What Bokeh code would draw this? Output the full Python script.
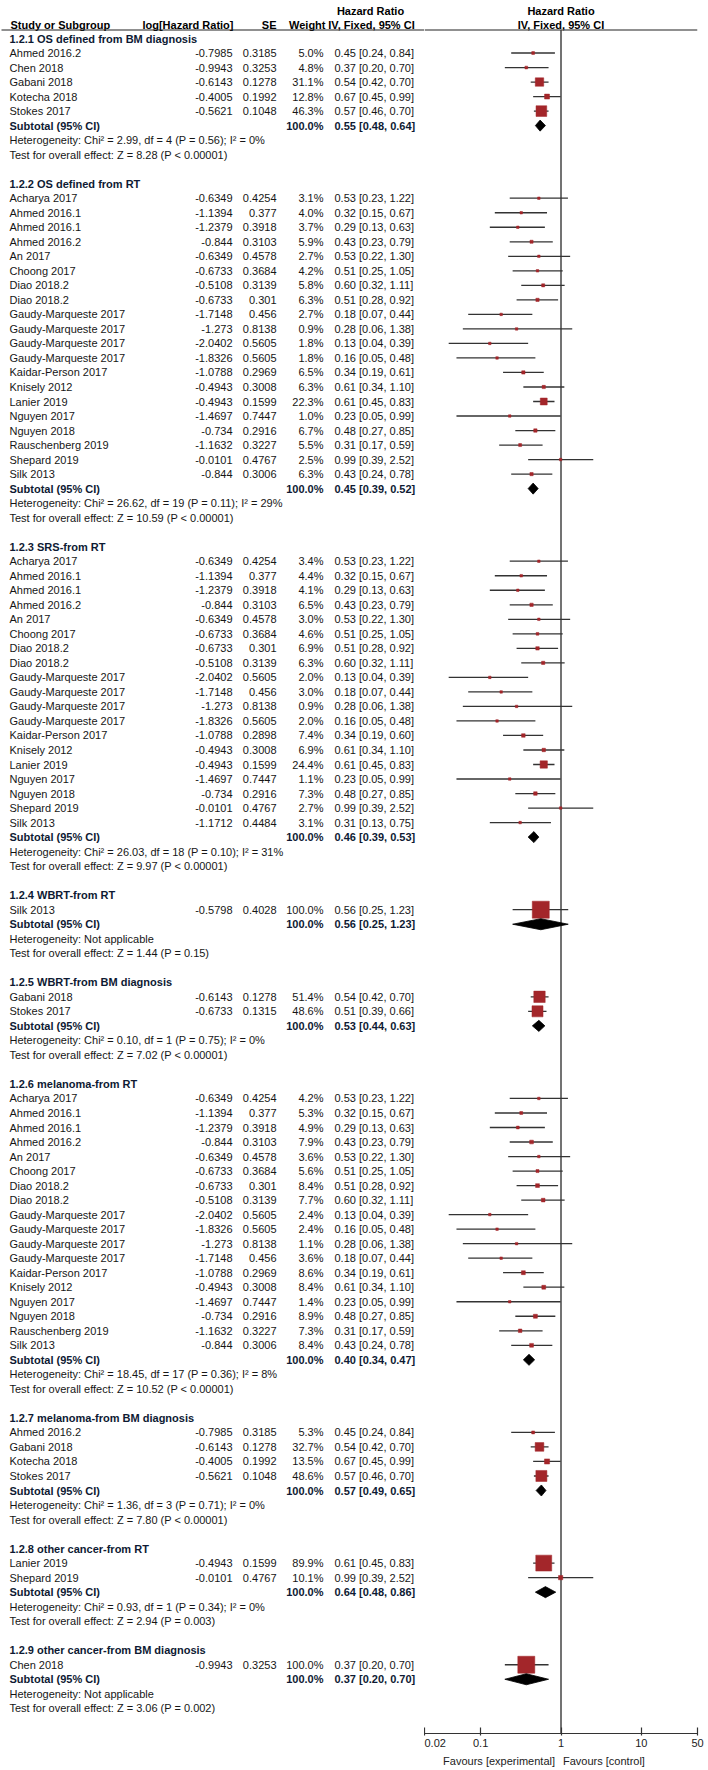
import math
from bokeh.plotting import figure
from bokeh.layouts import row, column
from bokeh.models import Range1d, FixedTicker, NumeralTickFormatter, ColumnDataSource, LogScale
from bokeh.embed import file_html
from bokeh.resources import INLINE
from bokeh.core.properties import value

# ---------------- data ----------------
group_titles = [
    "1.2.1 OS defined from BM diagnosis",
    "1.2.2 OS defined from RT",
    "1.2.3 SRS-from RT",
    "1.2.4 WBRT-from RT",
    "1.2.5 WBRT-from BM diagnosis",
    "1.2.6 melanoma-from RT",
    "1.2.7 melanoma-from BM diagnosis",
    "1.2.8 other cancer-from RT",
    "1.2.9 other cancer-from BM diagnosis",
]
group_n = [5, 20, 19, 1, 2, 18, 4, 2, 1]

study = [
    # 1.2.1
    "Ahmed 2016.2", "Chen 2018", "Gabani 2018", "Kotecha 2018", "Stokes 2017",
    # 1.2.2
    "Acharya 2017", "Ahmed 2016.1", "Ahmed 2016.1", "Ahmed 2016.2", "An 2017", "Choong 2017",
    "Diao 2018.2", "Diao 2018.2", "Gaudy-Marqueste 2017", "Gaudy-Marqueste 2017",
    "Gaudy-Marqueste 2017", "Gaudy-Marqueste 2017", "Kaidar-Person 2017", "Knisely 2012",
    "Lanier 2019", "Nguyen 2017", "Nguyen 2018", "Rauschenberg 2019", "Shepard 2019", "Silk 2013",
    # 1.2.3
    "Acharya 2017", "Ahmed 2016.1", "Ahmed 2016.1", "Ahmed 2016.2", "An 2017", "Choong 2017",
    "Diao 2018.2", "Diao 2018.2", "Gaudy-Marqueste 2017", "Gaudy-Marqueste 2017",
    "Gaudy-Marqueste 2017", "Gaudy-Marqueste 2017", "Kaidar-Person 2017", "Knisely 2012",
    "Lanier 2019", "Nguyen 2017", "Nguyen 2018", "Shepard 2019", "Silk 2013",
    # 1.2.4
    "Silk 2013",
    # 1.2.5
    "Gabani 2018", "Stokes 2017",
    # 1.2.6
    "Acharya 2017", "Ahmed 2016.1", "Ahmed 2016.1", "Ahmed 2016.2", "An 2017", "Choong 2017",
    "Diao 2018.2", "Diao 2018.2", "Gaudy-Marqueste 2017", "Gaudy-Marqueste 2017",
    "Gaudy-Marqueste 2017", "Gaudy-Marqueste 2017", "Kaidar-Person 2017", "Knisely 2012",
    "Nguyen 2017", "Nguyen 2018", "Rauschenberg 2019", "Silk 2013",
    # 1.2.7
    "Ahmed 2016.2", "Gabani 2018", "Kotecha 2018", "Stokes 2017",
    # 1.2.8
    "Lanier 2019", "Shepard 2019",
    # 1.2.9
    "Chen 2018",
]

log_hr = [
    -0.7985, -0.9943, -0.6143, -0.4005, -0.5621,
    -0.6349, -1.1394, -1.2379, -0.844, -0.6349, -0.6733, -0.5108, -0.6733, -1.7148, -1.273,
    -2.0402, -1.8326, -1.0788, -0.4943, -0.4943, -1.4697, -0.734, -1.1632, -0.0101, -0.844,
    -0.6349, -1.1394, -1.2379, -0.844, -0.6349, -0.6733, -0.6733, -0.5108, -2.0402, -1.7148,
    -1.273, -1.8326, -1.0788, -0.4943, -0.4943, -1.4697, -0.734, -0.0101, -1.1712,
    -0.5798,
    -0.6143, -0.6733,
    -0.6349, -1.1394, -1.2379, -0.844, -0.6349, -0.6733, -0.6733, -0.5108, -2.0402, -1.8326,
    -1.273, -1.7148, -1.0788, -0.4943, -1.4697, -0.734, -1.1632, -0.844,
    -0.7985, -0.6143, -0.4005, -0.5621,
    -0.4943, -0.0101,
    -0.9943,
]

se = [
    0.3185, 0.3253, 0.1278, 0.1992, 0.1048,
    0.4254, 0.377, 0.3918, 0.3103, 0.4578, 0.3684, 0.3139, 0.301, 0.456, 0.8138,
    0.5605, 0.5605, 0.2969, 0.3008, 0.1599, 0.7447, 0.2916, 0.3227, 0.4767, 0.3006,
    0.4254, 0.377, 0.3918, 0.3103, 0.4578, 0.3684, 0.301, 0.3139, 0.5605, 0.456,
    0.8138, 0.5605, 0.2898, 0.3008, 0.1599, 0.7447, 0.2916, 0.4767, 0.4484,
    0.4028,
    0.1278, 0.1315,
    0.4254, 0.377, 0.3918, 0.3103, 0.4578, 0.3684, 0.301, 0.3139, 0.5605, 0.5605,
    0.8138, 0.456, 0.2969, 0.3008, 0.7447, 0.2916, 0.3227, 0.3006,
    0.3185, 0.1278, 0.1992, 0.1048,
    0.1599, 0.4767,
    0.3253,
]

weight = [
    5.0, 4.8, 31.1, 12.8, 46.3,
    3.1, 4.0, 3.7, 5.9, 2.7, 4.2, 5.8, 6.3, 2.7, 0.9,
    1.8, 1.8, 6.5, 6.3, 22.3, 1.0, 6.7, 5.5, 2.5, 6.3,
    3.4, 4.4, 4.1, 6.5, 3.0, 4.6, 6.9, 6.3, 2.0, 3.0,
    0.9, 2.0, 7.4, 6.9, 24.4, 1.1, 7.3, 2.7, 3.1,
    100.0,
    51.4, 48.6,
    4.2, 5.3, 4.9, 7.9, 3.6, 5.6, 8.4, 7.7, 2.4, 2.4,
    1.1, 3.6, 8.6, 8.4, 1.4, 8.9, 7.3, 8.4,
    5.3, 32.7, 13.5, 48.6,
    89.9, 10.1,
    100.0,
]

hr = [
    0.45, 0.37, 0.54, 0.67, 0.57,
    0.53, 0.32, 0.29, 0.43, 0.53, 0.51, 0.60, 0.51, 0.18, 0.28,
    0.13, 0.16, 0.34, 0.61, 0.61, 0.23, 0.48, 0.31, 0.99, 0.43,
    0.53, 0.32, 0.29, 0.43, 0.53, 0.51, 0.51, 0.60, 0.13, 0.18,
    0.28, 0.16, 0.34, 0.61, 0.61, 0.23, 0.48, 0.99, 0.31,
    0.56,
    0.54, 0.51,
    0.53, 0.32, 0.29, 0.43, 0.53, 0.51, 0.51, 0.60, 0.13, 0.16,
    0.28, 0.18, 0.34, 0.61, 0.23, 0.48, 0.31, 0.43,
    0.45, 0.54, 0.67, 0.57,
    0.61, 0.99,
    0.37,
]

ci_lo = [
    0.24, 0.20, 0.42, 0.45, 0.46,
    0.23, 0.15, 0.13, 0.23, 0.22, 0.25, 0.32, 0.28, 0.07, 0.06,
    0.04, 0.05, 0.19, 0.34, 0.45, 0.05, 0.27, 0.17, 0.39, 0.24,
    0.23, 0.15, 0.13, 0.23, 0.22, 0.25, 0.28, 0.32, 0.04, 0.07,
    0.06, 0.05, 0.19, 0.34, 0.45, 0.05, 0.27, 0.39, 0.13,
    0.25,
    0.42, 0.39,
    0.23, 0.15, 0.13, 0.23, 0.22, 0.25, 0.28, 0.32, 0.04, 0.05,
    0.06, 0.07, 0.19, 0.34, 0.05, 0.27, 0.17, 0.24,
    0.24, 0.42, 0.45, 0.46,
    0.45, 0.39,
    0.20,
]

ci_hi = [
    0.84, 0.70, 0.70, 0.99, 0.70,
    1.22, 0.67, 0.63, 0.79, 1.30, 1.05, 1.11, 0.92, 0.44, 1.38,
    0.39, 0.48, 0.61, 1.10, 0.83, 0.99, 0.85, 0.59, 2.52, 0.78,
    1.22, 0.67, 0.63, 0.79, 1.30, 1.05, 0.92, 1.11, 0.39, 0.44,
    1.38, 0.48, 0.60, 1.10, 0.83, 0.99, 0.85, 2.52, 0.75,
    1.23,
    0.70, 0.66,
    1.22, 0.67, 0.63, 0.79, 1.30, 1.05, 0.92, 1.11, 0.39, 0.48,
    1.38, 0.44, 0.61, 1.10, 0.99, 0.85, 0.59, 0.78,
    0.84, 0.70, 0.99, 0.70,
    0.83, 2.52,
    0.70,
]

sub_hr = [0.55, 0.45, 0.46, 0.56, 0.53, 0.40, 0.57, 0.64, 0.37]
sub_lo = [0.48, 0.39, 0.39, 0.25, 0.44, 0.34, 0.49, 0.48, 0.20]
sub_hi = [0.64, 0.52, 0.53, 1.23, 0.63, 0.47, 0.65, 0.86, 0.70]

heterogeneity = [
    "Heterogeneity: Chi² = 2.99, df = 4 (P = 0.56); I² = 0%",
    "Heterogeneity: Chi² = 26.62, df = 19 (P = 0.11); I² = 29%",
    "Heterogeneity: Chi² = 26.03, df = 18 (P = 0.10); I² = 31%",
    "Heterogeneity: Not applicable",
    "Heterogeneity: Chi² = 0.10, df = 1 (P = 0.75); I² = 0%",
    "Heterogeneity: Chi² = 18.45, df = 17 (P = 0.36); I² = 8%",
    "Heterogeneity: Chi² = 1.36, df = 3 (P = 0.71); I² = 0%",
    "Heterogeneity: Chi² = 0.93, df = 1 (P = 0.34); I² = 0%",
    "Heterogeneity: Not applicable",
]
overall_effect = [
    "Test for overall effect: Z = 8.28 (P < 0.00001)",
    "Test for overall effect: Z = 10.59 (P < 0.00001)",
    "Test for overall effect: Z = 9.97 (P < 0.00001)",
    "Test for overall effect: Z = 1.44 (P = 0.15)",
    "Test for overall effect: Z = 7.02 (P < 0.00001)",
    "Test for overall effect: Z = 10.52 (P < 0.00001)",
    "Test for overall effect: Z = 7.80 (P < 0.00001)",
    "Test for overall effect: Z = 2.94 (P = 0.003)",
    "Test for overall effect: Z = 3.06 (P = 0.002)",
]

x_ticks = [0.02, 0.1, 1, 10, 50]
favours_left = "Favours [experimental]"
favours_right = "Favours [control]"

# ---------------- layout constants (page pixels) ----------------
FONT = value("Liberation Sans")
FS = value("11px")
TXT = "#161616"
BOLD_C = "#0e1a33"
SQ_C = "#a3262a"
LINE_C = "#333333"

ROW0 = 38.0          # page y of first group header
STEP = 14.52         # row pitch
AXIS_Y = 1733        # page y of the x axis line
MAIN_H = 1752        # height of table + forest figures
FOOT_H = 17          # height of the "Favours" strip
LEFT_W = 424
RIGHT_W = 708 - LEFT_W
RIGHT_PAD = 11


def to_row(page_y):
    return (page_y - ROW0) / STEP


r_top = to_row(0)
r_axis = to_row(AXIS_Y)
r_h1 = to_row(10)
r_h2 = to_row(24)
r_rule = to_row(29.5)

# ---------------- row bookkeeping ----------------
rows_header, rows_study, rows_sub, rows_het, rows_test = [], [], [], [], []
r = 0
for n in group_n:
    rows_header.append(r)
    r += 1
    for _ in range(n):
        rows_study.append(r)
        r += 1
    rows_sub.append(r)
    rows_het.append(r + 1)
    rows_test.append(r + 2)
    r += 4


def txt(fig, xs, ys, texts, align="left", bold=False, color=TXT, x_offset=0):
    fig.text(x=xs, y=ys, text=texts, text_align=align, text_baseline="middle",
             text_font=FONT, text_font_size=FS, x_offset=x_offset,
             text_font_style="bold" if bold else "normal", text_color=color)


# ---------------- left (table) figure ----------------
left = figure(width=LEFT_W, height=MAIN_H, x_range=Range1d(0, LEFT_W),
              y_range=Range1d(r_axis, r_top), x_axis_type=None, y_axis_type=None,
              output_backend="svg", toolbar_location=None,
              min_border_left=0, min_border_right=0, min_border_top=0,
              min_border_bottom=MAIN_H - AXIS_Y,
              outline_line_color=None, background_fill_color="white")

# column headers
txt(left, [370], [r_h1], ["Hazard Ratio"], align="center", bold=True, color="#000")
txt(left, [10], [r_h2], ["Study or Subgroup"], bold=True, color="#000")
txt(left, [233], [r_h2], ["log[Hazard Ratio]"], align="right", bold=True, color="#000")
txt(left, [276], [r_h2], ["SE"], align="right", bold=True, color="#000")
txt(left, [325], [r_h2], ["Weight"], align="right", bold=True, color="#000")
txt(left, [371], [r_h2], ["IV, Fixed, 95% CI"], align="center", bold=True, color="#000")
left.segment(x0=[1], y0=[r_rule], x1=[LEFT_W], y1=[r_rule], line_color="#222", line_width=1.2)

# group headers
txt(left, [9] * len(rows_header), rows_header, group_titles, bold=True, color=BOLD_C)

# study rows
txt(left, [9] * len(study), rows_study, study)
txt(left, [232] * len(study), rows_study, [str(v) for v in log_hr], align="right")
txt(left, [276] * len(study), rows_study, [str(v) for v in se], align="right")
txt(left, [323] * len(study), rows_study, [f"{w:.1f}%" for w in weight], align="right")
txt(left, [334] * len(study), rows_study,
    [f"{h:.2f} [{a:.2f}, {b:.2f}]" for h, a, b in zip(hr, ci_lo, ci_hi)])

# subtotal rows
ng = len(group_titles)
txt(left, [9] * ng, rows_sub, ["Subtotal (95% CI)"] * ng, bold=True, color=BOLD_C)
txt(left, [323] * ng, rows_sub, ["100.0%"] * ng, align="right", bold=True, color=BOLD_C)
txt(left, [334] * ng, rows_sub,
    [f"{h:.2f} [{a:.2f}, {b:.2f}]" for h, a, b in zip(sub_hr, sub_lo, sub_hi)],
    bold=True, color=BOLD_C)
txt(left, [9] * ng, rows_het, heterogeneity)
txt(left, [9] * ng, rows_test, overall_effect)

# ---------------- right (forest) figure ----------------
fp = figure(width=RIGHT_W, height=MAIN_H, x_axis_type="log", y_axis_type=None,
            x_range=Range1d(x_ticks[0], x_ticks[-1]), y_range=Range1d(r_axis, r_top),
            output_backend="svg", toolbar_location=None,
            min_border_left=0, min_border_right=RIGHT_PAD, min_border_top=0,
            min_border_bottom=MAIN_H - AXIS_Y,
            outline_line_color=None, background_fill_color="white")
fp.xgrid.grid_line_color = None
ax = fp.xaxis[0]
ax.ticker = FixedTicker(ticks=x_ticks)
ax.formatter = NumeralTickFormatter(format="0.[00]")
ax.axis_line_color = LINE_C
ax.axis_line_width = 1.2
ax.major_tick_line_color = LINE_C
ax.major_tick_line_width = 1.2
ax.major_tick_in = 6
ax.major_tick_out = 2
ax.minor_tick_line_color = None
ax.major_label_standoff = 3
ax.major_label_text_font = "Liberation Sans"
ax.major_label_text_font_size = "11px"
ax.major_label_text_color = "#222"

# header texts + rule
txt(fp, [1], [r_h1], ["Hazard Ratio"], align="center", bold=True, color="#000")
txt(fp, [1], [r_h2], ["IV, Fixed, 95% CI"], align="center", bold=True, color="#000")
fp.segment(x0=[x_ticks[0]], y0=[r_rule], x1=[x_ticks[-1]], y1=[r_rule], line_color="#222", line_width=1.2)

# line of no effect
fp.segment(x0=[1], y0=[r_rule], x1=[1], y1=[r_axis], line_color="#444", line_width=1.5)

# study CIs and squares (square side grows with weight)
src = ColumnDataSource(dict(
    hr=hr, lo=ci_lo, hi=ci_hi, y=rows_study,
    size=[max(2.5, 17.0 * (w / 100.0) ** 0.6) for w in weight],
))
fp.segment(x0="lo", y0="y", x1="hi", y1="y", source=src, line_color=LINE_C, line_width=1.3)
fp.scatter(x="hr", y="y", size="size", marker="square", source=src,
           fill_color=SQ_C, line_color=SQ_C, line_width=0.5)

# subtotal diamonds
H = 0.38
dx = [[a, m, b, m] for a, m, b in zip(sub_lo, sub_hr, sub_hi)]
dy = [[y, y - H, y, y + H] for y in rows_sub]
fp.patches(xs=dx, ys=dy, fill_color="black", line_color="black", line_width=0.8)

# ---------------- footer strip with "Favours" labels ----------------
foot = figure(width=708, height=FOOT_H, x_axis_type=None, y_axis_type=None,
              x_range=Range1d(x_ticks[0], x_ticks[-1]), y_range=Range1d(1, 0),
              output_backend="svg", toolbar_location=None,
              min_border_left=LEFT_W, min_border_right=RIGHT_PAD,
              min_border_top=0, min_border_bottom=0,
              outline_line_color=None, background_fill_color="white")
foot.x_scale = LogScale()
foot.text(x=[1], y=[0.5], text=[favours_left], text_align="right", text_baseline="middle",
          x_offset=-6, text_font=FONT, text_font_size=FS, text_color="#222")
foot.text(x=[1], y=[0.5], text=[favours_right], text_align="left", text_baseline="middle",
          x_offset=2, text_font=FONT, text_font_size=FS, text_color="#222")

layout = column(row(left, fp, spacing=0), foot, spacing=0)
open("out.html", "w").write(file_html(layout, INLINE))
